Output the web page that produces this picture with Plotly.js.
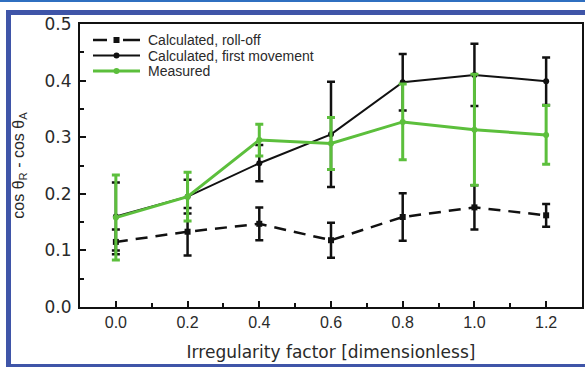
<!DOCTYPE html>
<html>
<head>
<meta charset="utf-8">
<script src="https://cdn.plot.ly/plotly-3.0.1.min.js"></script>
<style>
  html, body { margin: 0; padding: 0; background: #fff; }
  #wrap { position: relative; width: 585px; height: 367px; overflow: hidden; }
  #chart { position: absolute; left: 0; top: 0; width: 585px; height: 367px; }
  .bl { position: absolute; background: #3f55a8; }
</style>
</head>
<body>
<div id="wrap">
  <div id="chart"></div>
  <div class="bl" style="left:0;top:0;width:585px;height:2px;background:#2f6fc0;"></div>
  <div class="bl" style="left:6px;top:10px;width:579px;height:5px;"></div>
  <div class="bl" style="left:6px;top:10px;width:5px;height:357px;"></div>
  <div class="bl" style="left:6px;top:364px;width:579px;height:3px;"></div>
</div>
<script>
const irregularity = [0.0, 0.2, 0.4, 0.6, 0.8, 1.0, 1.2];
const rollOff = [0.115, 0.133, 0.147, 0.118, 0.159, 0.176, 0.162];
const rollOffErr = [0.022, 0.042, 0.029, 0.031, 0.042, 0.039, 0.020];
const firstMovement = [0.160, 0.195, 0.254, 0.305, 0.397, 0.410, 0.399];
const firstMovementErr = [0.060, 0.030, 0.032, 0.093, 0.050, 0.055, 0.042];
const measured = [0.158, 0.195, 0.295, 0.289, 0.327, 0.313, 0.304];
const measuredErr = [0.075, 0.043, 0.028, 0.046, 0.067, 0.098, 0.052];
const seriesNames = ['Calculated, roll-off', 'Calculated, first movement', 'Measured'];
const xTicks = [0.0, 0.2, 0.4, 0.6, 0.8, 1.0, 1.2];
const yTicks = [0.0, 0.1, 0.2, 0.3, 0.4, 0.5];

const green = '#5cbf3c';
const black = '#111';
const styles = [
  {color: black, width: 2.5, dash: '12px,8px', symbol: 'square', errW: 2.5},
  {color: black, width: 2, dash: 'solid', symbol: 'circle', errW: 2.5},
  {color: green, width: 3, dash: 'solid', symbol: 'circle', errW: 3}
];
const yData = [rollOff, firstMovement, measured];
const errData = [rollOffErr, firstMovementErr, measuredErr];

const traces = seriesNames.map((name, i) => ({
  x: irregularity, y: yData[i], name: name, type: 'scatter', mode: 'lines+markers',
  showlegend: false,
  line: {color: styles[i].color, width: styles[i].width, dash: styles[i].dash},
  marker: {symbol: styles[i].symbol, size: 6, color: styles[i].color},
  error_y: {type: 'data', array: errData[i], visible: true, color: styles[i].color, thickness: styles[i].errW, width: 4}
}));

// plot-area geometry (pixels) used to place the hand-drawn legend
const M = {l: 80, r: 3, t: 24, b: 60};
const W = 585, H = 367;
const pw = W - M.l - M.r, ph = H - M.t - M.b;
const px = v => (v - M.l) / pw;
const py = v => (H - M.b - v) / ph;

const shapes = [];
const annotations = [];
seriesNames.forEach((name, i) => {
  const rowY = 40 + i * 15.5;
  const s = styles[i];
  const segs = s.dash === 'solid' ? [[93, 140]] : [[93, 107], [123, 140]];
  segs.forEach(sg => shapes.push({
    type: 'line', xref: 'paper', yref: 'paper',
    x0: px(sg[0]), x1: px(sg[1]), y0: py(rowY), y1: py(rowY),
    line: {color: s.color, width: s.width}
  }));
  shapes.push({
    type: s.symbol === 'square' ? 'rect' : 'circle', xref: 'paper', yref: 'paper',
    x0: px(113.5), x1: px(119.5), y0: py(rowY - 3), y1: py(rowY + 3),
    fillcolor: s.color, line: {color: s.color, width: 0}
  });
  annotations.push({
    text: name, xref: 'paper', yref: 'paper', x: px(146), y: py(rowY),
    xanchor: 'left', yanchor: 'middle', showarrow: false,
    font: {family: 'Liberation Sans, Arial, sans-serif', size: 14, color: '#2a2a2a'}
  });
});

const font = {family: 'Liberation Sans, Arial, sans-serif', color: '#2a2a2a', size: 14};
const layout = {
  width: W, height: H,
  margin: M,
  paper_bgcolor: '#fff', plot_bgcolor: '#fff',
  font: font,
  showlegend: false,
  shapes: shapes,
  annotations: annotations,
  xaxis: {
    range: [-0.1, 1.3], tickvals: xTicks, ticktext: xTicks.map(v => v.toFixed(1)),
    ticks: 'inside', ticklen: 6, tickwidth: 2, tickcolor: black,
    minor: {ticks: 'inside', ticklen: 4, tickwidth: 2, tickcolor: black, dtick: 0.1, tick0: 0},
    showline: true, linecolor: black, linewidth: 2, mirror: true,
    showgrid: false, zeroline: false,
    tickfont: {family: font.family, size: 16, color: '#2a2a2a'},
    ticklabelstandoff: 0,
    title: {text: 'Irregularity factor [dimensionless]', font: {family: 'DejaVu Sans, sans-serif', size: 17, color: '#2a2a2a'}, standoff: 16}
  },
  yaxis: {
    range: [0, 0.5], tickvals: yTicks, ticktext: yTicks.map(v => v.toFixed(1)),
    ticks: 'inside', ticklen: 6, tickwidth: 2, tickcolor: black,
    minor: {ticks: 'inside', ticklen: 4, tickwidth: 2, tickcolor: black, dtick: 0.05, tick0: 0},
    showline: true, linecolor: black, linewidth: 2, mirror: true,
    showgrid: false, zeroline: false,
    tickfont: {family: 'DejaVu Sans, sans-serif', size: 17, color: '#2a2a2a'},
    ticklabelstandoff: 3,
    title: {text: 'cos θ<sub>R</sub> - cos θ<sub>A</sub>', font: {family: font.family, size: 16, color: '#2a2a2a'}, standoff: 16}
  }
};

Plotly.newPlot('chart', traces, layout, {displayModeBar: false, staticPlot: true});
</script>
</body>
</html>
